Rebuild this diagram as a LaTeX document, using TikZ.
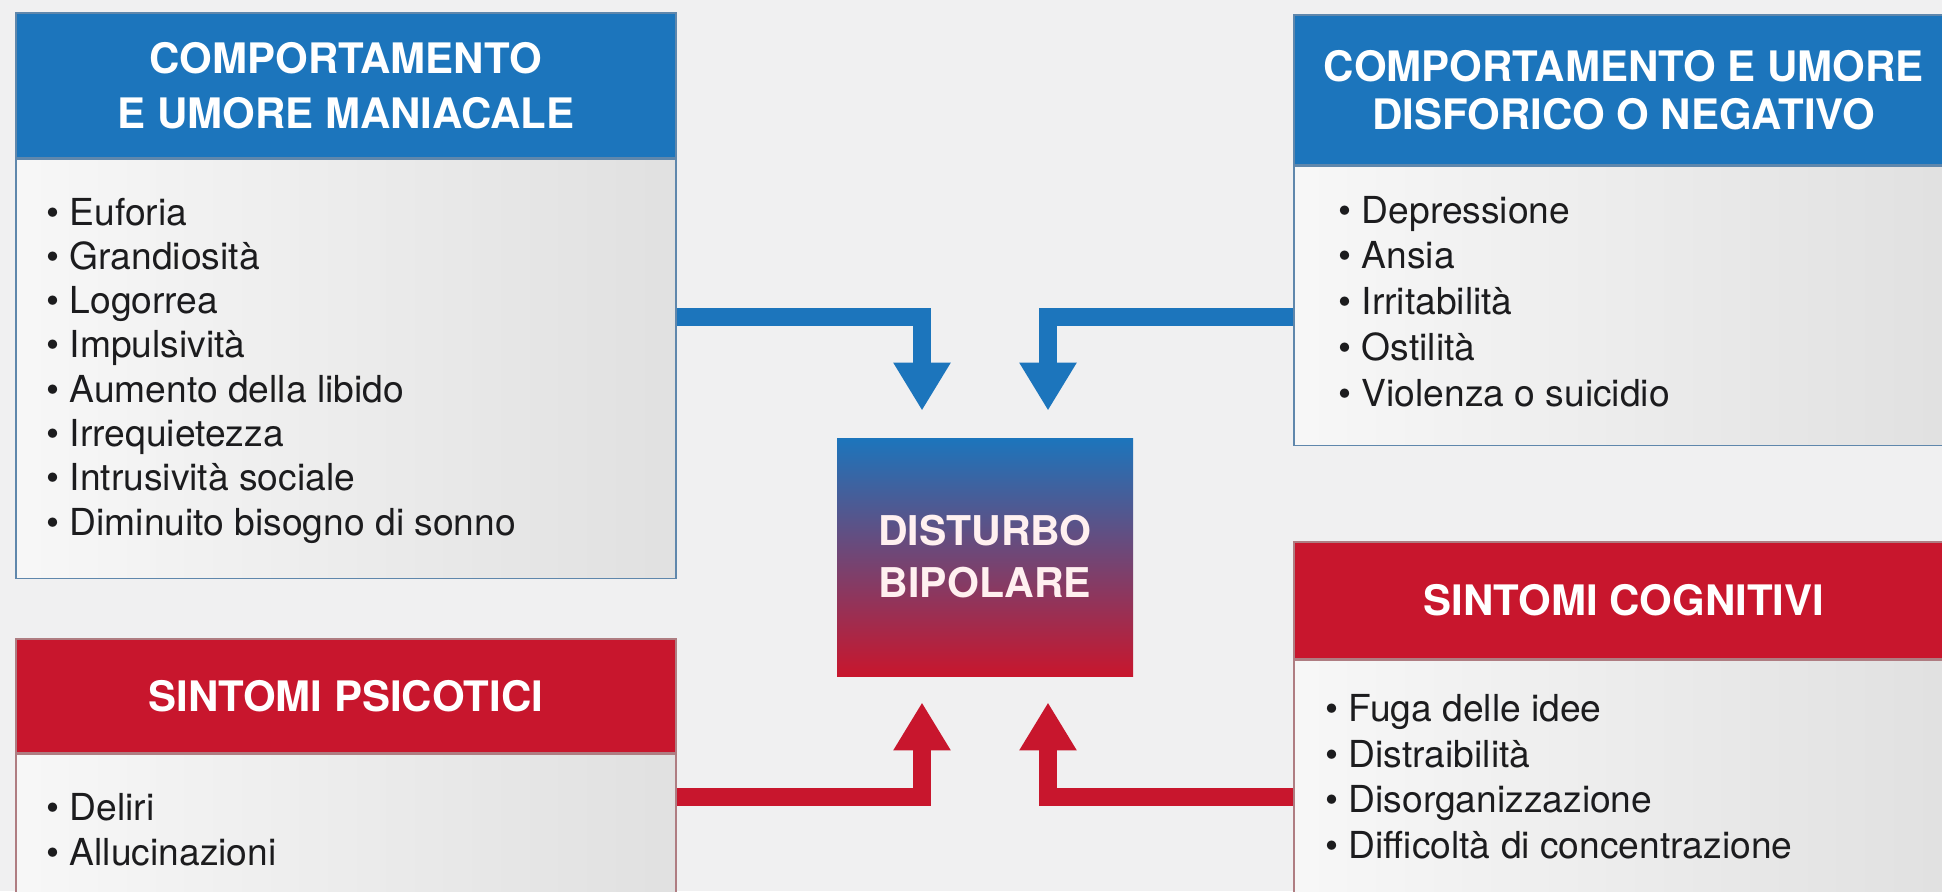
\documentclass[tikz,border=0pt]{standalone}
\usepackage{fontspec}
\setmainfont{TeX Gyre Heros}
\usetikzlibrary{positioning, arrows.meta}

\definecolor{bpblue}{RGB}{28,117,188}
\definecolor{bpred}{RGB}{200,22,45}
\definecolor{bpblueline}{RGB}{95,135,172}
\definecolor{bpredline}{RGB}{175,125,130}
\definecolor{bpbg}{RGB}{240,240,241}
\definecolor{bptext}{RGB}{28,28,30}

\begin{document}
\begin{tikzpicture}
    [
        x=1pt, y=-1pt, node distance=0pt,
        blue_head/.style={rectangle, draw=bpblueline, line width=0.8pt, fill=bpblue, text=white, minimum width=330pt, inner sep=0pt, align=center, font=\fontsize{21}{25}\selectfont\bfseries},
        red_head/.style={blue_head, draw=bpredline, fill=bpred},
        blue_body/.style={rectangle, draw=bpblueline, line width=0.8pt, left color=white!97!black, right color=white!88!black, minimum width=330pt, inner sep=0pt},
        red_body/.style={blue_body, draw=bpredline},
        list_item/.style={anchor=base west, inner sep=0pt, text=bptext, font=\fontsize{18.6}{22}\selectfont},
        core_node/.style={rectangle, top color=bpblue, bottom color=bpred, text=white!94!red, minimum width=148pt, minimum height=119pt, align=center, font=\fontsize{20.5}{26}\selectfont\bfseries},
        blue_arrow/.style={draw=bpblue, line width=9pt, -{Triangle[width=27pt, length=24pt]}},
        red_arrow/.style={blue_arrow, draw=bpred},
    ]
        \useasboundingbox (0,0) rectangle (971,445.5);
        \clip (0,0) rectangle (971,445.5);
        \fill[bpbg] (0,0) rectangle (971,445.5);

        \coordinate (blue_lane) at (0,158.5);
        \coordinate (red_lane) at (0,398.5);

        % boxes
        \node[blue_head, minimum height=72.5pt, anchor=north west, font=\fontsize{21}{27.5}\selectfont\bfseries] (mania_head) at (7.5,6) {COMPORTAMENTO\\E UMORE MANIACALE};
        \node[blue_body, minimum height=209.5pt] (mania_body) [below=of mania_head] {};
        \node[blue_head, minimum height=75pt, anchor=north west, font=\fontsize{21}{24}\selectfont\bfseries] (dys_head) at (646.5,7) {COMPORTAMENTO E UMORE\\DISFORICO O NEGATIVO};
        \node[blue_body, minimum height=139.5pt] (dys_body) [below=of dys_head] {};
        \node[red_head, minimum height=57pt, anchor=north west] (psy_head) at (7.5,319) {SINTOMI PSICOTICI};
        \node[red_body, minimum height=90pt] (psy_body) [below=of psy_head] {};
        \node[red_head, minimum height=58.5pt, anchor=north west] (cog_head) at (646.5,270.5) {SINTOMI COGNITIVI};
        \node[red_body, minimum height=140pt] (cog_body) [below=of cog_head] {};

        \node[core_node] (core) at (492.5,278.5) {DISTURBO\\BIPOLARE};

        % lists
        \foreach \sym [count=\i from 0] in {Euforia, Grandiosità, Logorrea, Impulsività, Aumento della libido, Irrequietezza, Intrusività sociale, Diminuito bisogno di sonno}
            \node[list_item] (mania_\i) at (23,{112.5+22.15*\i}) {\textbullet\ \sym};
        \foreach \sym [count=\i from 0] in {Depressione, Ansia, Irritabilità, Ostilità, Violenza o suicidio}
            \node[list_item] (dys_\i) at (669,{111.5+22.9*\i}) {\textbullet\ \sym};
        \foreach \sym [count=\i from 0] in {Deliri, Allucinazioni}
            \node[list_item] (psy_\i) at (23,{410+22.5*\i}) {\textbullet\ \sym};
        \foreach \sym [count=\i from 0] in {Fuga delle idee, Distraibilità, Disorganizzazione, Difficoltà di concentrazione}
            \node[list_item] (cog_\i) at (662.5,{360.8+22.75*\i}) {\textbullet\ \sym};

        % arrows
        \draw[blue_arrow] (mania_body.east |- blue_lane) -| ([xshift=-31.5pt, yshift=13.5pt]core.north);
        \draw[blue_arrow] (dys_body.west |- blue_lane) -| ([xshift=31.5pt, yshift=13.5pt]core.north);
        \draw[red_arrow] (psy_body.east |- red_lane) -| ([xshift=-31.5pt, yshift=-13pt]core.south);
        \draw[red_arrow] (cog_body.west |- red_lane) -| ([xshift=31.5pt, yshift=-13pt]core.south);
\end{tikzpicture}
\end{document}
